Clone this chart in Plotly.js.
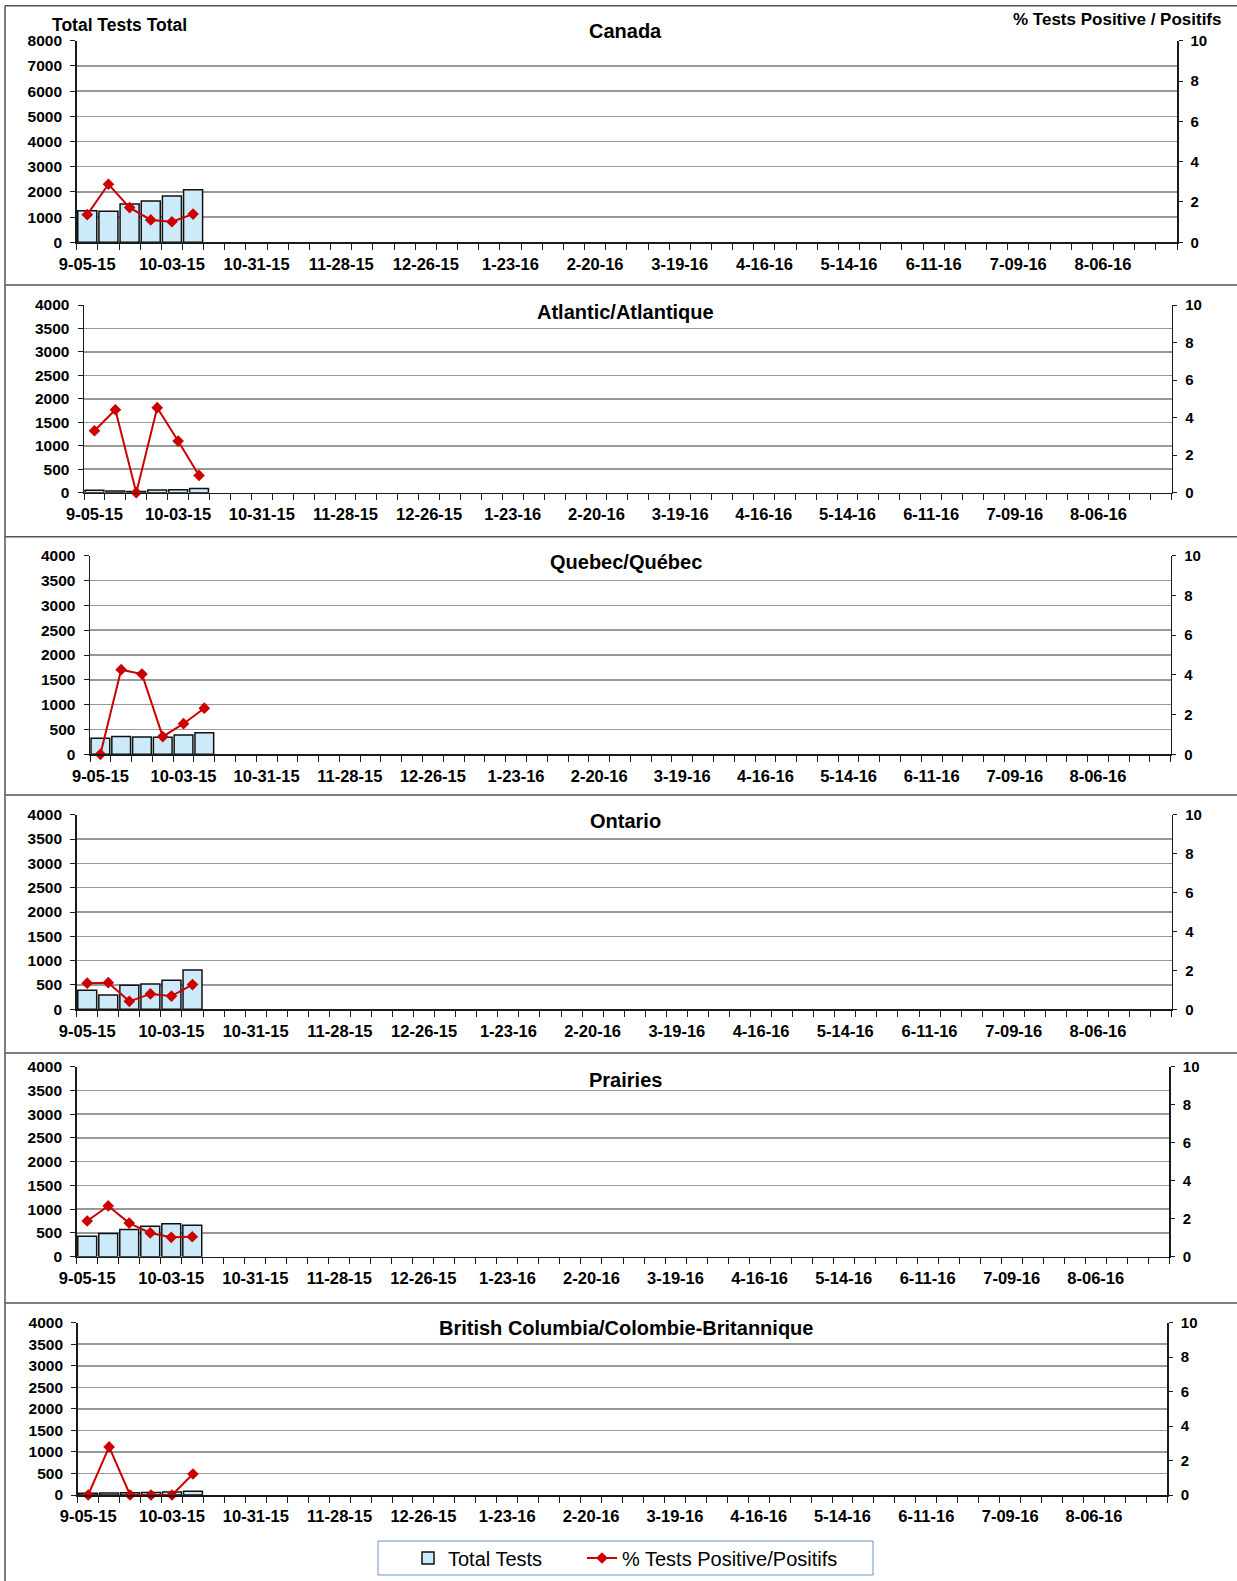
<!DOCTYPE html>
<html><head><meta charset="utf-8">
<script src="https://cdn.plot.ly/plotly-3.0.1.min.js"></script>
<style>html,body{margin:0;padding:0;background:#fff}#chart{width:1237px;height:1581px}</style>
</head><body><div id="chart"></div>
<script>
// ---- data ----
const weeks = ["9-05-15","9-12-15","9-19-15","9-26-15","10-03-15","10-10-15","10-17-15","10-24-15","10-31-15","11-07-15","11-14-15","11-21-15","11-28-15","12-05-15","12-12-15","12-19-15","12-26-15","1-02-16","1-09-16","1-16-16","1-23-16","1-30-16","2-06-16","2-13-16","2-20-16","2-27-16","3-05-16","3-12-16","3-19-16","3-26-16","4-02-16","4-09-16","4-16-16","4-23-16","4-30-16","5-07-16","5-14-16","5-21-16","5-28-16","6-04-16","6-11-16","6-18-16","6-25-16","7-02-16","7-09-16","7-16-16","7-23-16","7-30-16","8-06-16","8-13-16","8-20-16","8-27-16"];
const tickLabels = ["9-05-15","10-03-15","10-31-15","11-28-15","12-26-15","1-23-16","2-20-16","3-19-16","4-16-16","5-14-16","6-11-16","7-09-16","8-06-16"];
const dataWeeks = ["9-05-15","9-12-15","9-19-15","9-26-15","10-03-15","10-10-15"];
const regions = ["Canada","Atlantic/Atlantique","Quebec/Québec","Ontario","Prairies","British Columbia/Colombie-Britannique"];

const canadaTests   = [1250,1230,1520,1640,1840,2090];
const canadaPos     = [1.37,2.88,1.72,1.11,1.02,1.40];
const atlanticTests = [50,36,28,57,64,92];
const atlanticPos   = [3.30,4.42,0,4.53,2.75,0.92];
const quebecTests   = [322,356,349,342,389,436];
const quebecPos     = [0,4.26,4.04,0.89,1.54,2.32];
const ontarioTests  = [390,295,493,520,596,808];
const ontarioPos    = [1.34,1.37,0.41,0.79,0.68,1.27];
const prairiesTests = [428,491,575,639,695,660];
const prairiesPos   = [1.88,2.67,1.77,1.25,1.02,1.05];
const bcTests       = [40,45,50,60,70,85];
const bcPos         = [0,2.79,0,0,0,1.22];

const leftMax  = [8000,4000,4000,4000,4000,4000];
const leftStep = [1000,500,500,500,500,500];
const rightTicks = [0,2,4,6,8,10];

const testsSeries = [canadaTests,atlanticTests,quebecTests,ontarioTests,prairiesTests,bcTests];
const posSeries   = [canadaPos,atlanticPos,quebecPos,ontarioPos,prairiesPos,bcPos];

// ---- layout geometry (pixels) ----
const W = 1237, H = 1581;
const panels = [
  {L:76.7, R:1177,   T:40.7,  B:242.3, ty:30.8},
  {L:84,   R:1171.7, T:305,   B:492.7, ty:311.5},
  {L:90,   R:1170.7, T:555.7, B:754.3, ty:562.5},
  {L:76.7, R:1171.7, T:814.7, B:1009.3,ty:820.6},
  {L:76.7, R:1169.3, T:1066.7,B:1256.7,ty:1079.7},
  {L:77.7, R:1167.3, T:1322.7,B:1495,  ty:1328.4}
];
const FONT = "Liberation Sans, Arial, sans-serif";
const AX = '#1a1a1a';
const GRID = '#999999';

const ticktext = weeks.map(w => tickLabels.includes(w) ? w : '');
const boundaries = [];
for (let k = 0; k <= weeks.length; k++) boundaries.push(k - 0.5);

const legendCommon = {
  orientation: 'h', yanchor: 'middle', y: 1 - 1558 / H, xanchor: 'left',
  borderwidth: 0, bgcolor: 'rgba(0,0,0,0)',
  font: {family: FONT, size: 20, color: '#000'}
};

const traces = [];
const layout = {
  width: W, height: H,
  margin: {l:0, r:0, t:0, b:0},
  paper_bgcolor: '#fff', plot_bgcolor: 'rgba(0,0,0,0)',
  bargap: 0.1,
  showlegend: true,
  legend: Object.assign({}, legendCommon, {x: 408 / W}),
  legend2: Object.assign({}, legendCommon, {x: 582 / W}),
  annotations: [], shapes: []
};

function axName(prefix, n){ return prefix + 'axis' + (n === 1 ? '' : n); }
function axRef(prefix, n){ return prefix + (n === 1 ? '' : n); }

panels.forEach((p, i) => {
  const xm = i + 1, xo = i + 7;
  const yl = i + 1, yr = i + 7, yri = i + 13;
  const xd = [p.L / W, p.R / W];
  const yd = [1 - p.B / H, 1 - p.T / H];

  layout[axName('x', xm)] = {
    domain: xd, anchor: axRef('y', yl), type: 'category',
    categoryorder: 'array', categoryarray: weeks, range: [-0.5, weeks.length - 0.5],
    tickmode: 'array', tickvals: weeks, ticktext: ticktext, tickson: 'boundaries',
    ticks: 'outside', ticklen: 6, tickwidth: 1, tickcolor: AX, tickangle: 0,
    showline: true, linecolor: AX, linewidth: 1.5, showgrid: false, zeroline: false,
    tickfont: {family: FONT, size: 16.5, color: '#000', weight: 'bold'},
    ticklabelstandoff: 6, fixedrange: true
  };
  layout[axName('x', xo)] = {
    domain: xd, anchor: axRef('y', yl), overlaying: axRef('x', xm), type: 'linear',
    range: [-0.5, weeks.length - 0.5], tickmode: 'array', tickvals: boundaries,
    ticks: 'inside', ticklen: 5, tickwidth: 1, tickcolor: AX,
    showticklabels: false, showline: false, showgrid: false, zeroline: false
  };
  const lv = [];
  for (let v = 0; v <= leftMax[i]; v += leftStep[i]) lv.push(v);
  layout[axName('y', yl)] = {
    domain: yd, anchor: axRef('x', xm), range: [0, leftMax[i]],
    tickmode: 'array', tickvals: lv,
    ticks: 'outside', ticklen: 5, tickwidth: 1, tickcolor: AX,
    showline: true, linecolor: AX, linewidth: 1.5,
    showgrid: true, gridcolor: GRID, gridwidth: 1.5, zeroline: false,
    tickfont: {family: FONT, size: 15.5, color: '#000', weight: 'bold'},
    ticklabelstandoff: 5, fixedrange: true
  };
  layout[axName('y', yr)] = {
    domain: yd, anchor: axRef('x', xm), overlaying: axRef('y', yl), side: 'right',
    range: [0, 10], tickmode: 'array', tickvals: rightTicks,
    ticks: 'outside', ticklen: 4, tickwidth: 1, tickcolor: AX,
    showline: true, linecolor: AX, linewidth: 1.5, showgrid: false, zeroline: false,
    tickfont: {family: FONT, size: 15, color: '#000', weight: 'bold'},
    ticklabelstandoff: 5, fixedrange: true
  };
  layout[axName('y', yri)] = {
    domain: yd, anchor: axRef('x', xm), overlaying: axRef('y', yl), side: 'right',
    range: [0, 10], tickmode: 'array', tickvals: rightTicks,
    ticks: 'inside', ticklen: 4, tickwidth: 1, tickcolor: AX,
    showticklabels: false, showline: false, showgrid: false, zeroline: false
  };

  traces.push({
    type: 'bar', name: 'Total Tests', x: dataWeeks, y: testsSeries[i],
    xaxis: axRef('x', xm), yaxis: axRef('y', yl),
    marker: {color: '#cdeafb', line: {color: '#111', width: 1.5}},
    showlegend: i === 0, legend: 'legend', legendgroup: 'tests', hoverinfo: 'x+y'
  });
  traces.push({
    type: 'scatter', mode: 'lines+markers', name: '% Tests Positive/Positifs',
    x: dataWeeks, y: posSeries[i],
    xaxis: axRef('x', xm), yaxis: axRef('y', yr),
    line: {color: '#cc0000', width: 2},
    marker: {symbol: 'diamond', size: 9, color: '#cc0000'},
    showlegend: i === 0, legend: 'legend2', legendgroup: 'pos', cliponaxis: false
  });

  layout.annotations.push({
    xref: 'paper', yref: 'paper', x: 626 / W, y: 1 - p.ty / H,
    xanchor: 'center', yanchor: 'middle', showarrow: false, text: regions[i],
    font: {family: FONT, size: 20, color: '#000', weight: 'bold'}
  });
});

layout.annotations.push({
  xref: 'paper', yref: 'paper', x: 50 / W, y: 1 - 25 / H, xanchor: 'left', yanchor: 'middle',
  showarrow: false, text: 'Total Tests Total',
  font: {family: FONT, size: 17.5, color: '#000', weight: 'bold'}
});
layout.annotations.push({
  xref: 'paper', yref: 'paper', x: 1223 / W, y: 1 - 19.7 / H, xanchor: 'right', yanchor: 'middle',
  showarrow: false, text: '% Tests Positive / Positifs',
  font: {family: FONT, size: 17, color: '#000', weight: 'bold'}
});

// frame lines between the stacked panels
const sepY = [5.7, 285, 536.7, 795, 1053, 1303];
sepY.forEach(y => layout.shapes.push({
  type: 'line', xref: 'paper', yref: 'paper', x0: 5 / W, x1: 1, y0: 1 - y / H, y1: 1 - y / H,
  line: {color: '#555', width: 1.5}
}));
layout.shapes.push({
  type: 'line', xref: 'paper', yref: 'paper', x0: 5 / W, x1: 5 / W, y0: 1 - 5.7 / H, y1: 0,
  line: {color: '#555', width: 1.5}
});
// legend frame
layout.shapes.push({
  type: 'rect', xref: 'paper', yref: 'paper', layer: 'below',
  x0: 378 / W, x1: 873 / W, y0: 1 - 1575 / H, y1: 1 - 1541 / H,
  line: {color: '#6f8fcf', width: 1}, fillcolor: '#fff'
});

Plotly.newPlot('chart', traces, layout, {staticPlot: true, displayModeBar: false});
</script>
</body></html>
